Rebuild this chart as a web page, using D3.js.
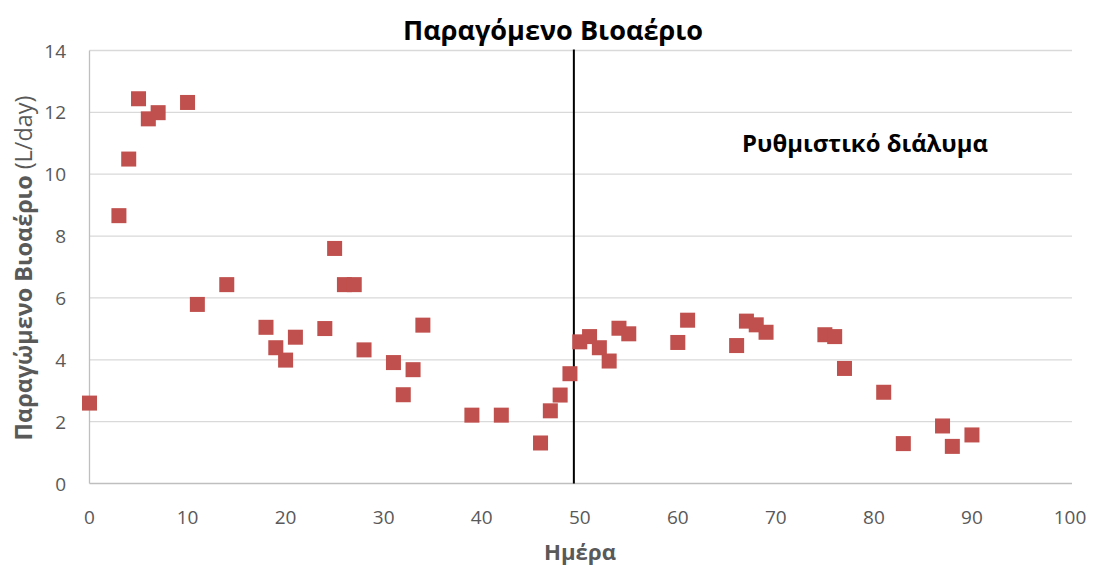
<!DOCTYPE html>
<html>
<head>
<meta charset="utf-8">
<script src="https://cdn.jsdelivr.net/npm/d3@7/dist/d3.min.js"></script>
<style>
  html, body { margin: 0; padding: 0; background: #fff; }
  svg { display: block; }
  text { font-family: "Open Sans", "Noto Sans", sans-serif; }
</style>
</head>
<body>
<svg id="chart" width="1093" height="567"></svg>
<script>
// Day of measurement
const days = [0, 3, 4, 5, 6, 7, 10, 11, 14, 18, 19, 20, 21, 24, 25, 26, 27, 28,
  31, 32, 33, 34, 39, 42, 46, 47, 48, 49, 50, 51, 52, 53, 54, 55, 60, 61,
  66, 67, 68, 69, 75, 76, 77, 81, 83, 87, 88, 90];
// Produced biogas (L/day)
const biogas = [2.6, 8.66, 10.49, 12.44, 11.79, 11.99, 12.32, 5.79, 6.43, 5.05, 4.39, 3.99, 4.73, 5.01, 7.6, 6.43, 6.43, 4.32,
  3.91, 2.87, 3.68, 5.12, 2.21, 2.21, 1.31, 2.35, 2.86, 3.55, 4.58, 4.75, 4.39, 3.96, 5.02, 4.84, 4.56, 5.28,
  4.46, 5.25, 5.13, 4.89, 4.81, 4.75, 3.72, 2.95, 1.29, 1.86, 1.2, 1.57];
const xTicks = [0, 10, 20, 30, 40, 50, 60, 70, 80, 90, 100];
const yTicks = [0, 2, 4, 6, 8, 10, 12, 14];
const bufferDay = 49.4;

const svg = d3.select("#chart");
const plot = { left: 89.5, right: 1072, top: 50.5, bottom: 483.5 };

const x = d3.scaleLinear().domain([0, 100]).range([plot.left, 1070]);
const y = d3.scaleLinear().domain([0, 14]).range([plot.bottom, plot.top]);

// scale a text element's font size so it spans the given width
function fitWidth(sel, width) {
  const node = sel.node();
  const fs = parseFloat(sel.attr("font-size"));
  const w = node.getComputedTextLength();
  if (w > 0) sel.attr("font-size", (fs * width / w).toFixed(2));
  return sel;
}

// horizontal gridlines
svg.append("g").selectAll("line").data(yTicks.filter(d => d > 0)).join("line")
  .attr("x1", plot.left).attr("x2", plot.right)
  .attr("y1", d => y(d)).attr("y2", d => y(d))
  .attr("stroke", "#d9d9d9").attr("stroke-width", 1.3);

// axis lines
svg.append("line").attr("x1", plot.left).attr("x2", plot.right)
  .attr("y1", y(0)).attr("y2", y(0)).attr("stroke", "#bfbfbf").attr("stroke-width", 1.3);
svg.append("line").attr("x1", plot.left).attr("x2", plot.left)
  .attr("y1", y(0)).attr("y2", y(14)).attr("stroke", "#bfbfbf").attr("stroke-width", 1.3);

// tick labels
svg.append("g").selectAll("text").data(yTicks).join("text")
  .attr("x", 66).attr("y", d => y(d) + 7)
  .attr("text-anchor", "end").attr("font-size", 19).attr("fill", "#595959")
  .text(d => d);
svg.append("g").selectAll("text").data(xTicks).join("text")
  .attr("x", d => x(d)).attr("y", 524)
  .attr("text-anchor", "middle").attr("font-size", 19).attr("fill", "#595959")
  .text(d => d);

// separator for buffer addition
svg.append("line").attr("x1", x(bufferDay)).attr("x2", x(bufferDay))
  .attr("y1", y(14) - 1).attr("y2", y(0))
  .attr("stroke", "#000").attr("stroke-width", 2);

// data markers
const s = 15;
svg.append("g").selectAll("rect").data(days.map((d, i) => [d, biogas[i]])).join("rect")
  .attr("x", d => x(d[0]) - s / 2).attr("y", d => y(d[1]) - s / 2)
  .attr("width", s).attr("height", s)
  .attr("fill", "#c0504d");

// titles
fitWidth(svg.append("text").attr("x", 553).attr("y", 40).attr("text-anchor", "middle")
  .attr("font-size", 22).attr("font-weight", "bold").attr("fill", "#000")
  .text("Παραγόμενο Βιοαέριο"), 300);
fitWidth(svg.append("text").attr("x", 865).attr("y", 152).attr("text-anchor", "middle")
  .attr("font-size", 20).attr("font-weight", "bold").attr("fill", "#000")
  .text("Ρυθμιστικό διάλυμα"), 246);
fitWidth(svg.append("text").attr("x", 580).attr("y", 560).attr("text-anchor", "middle")
  .attr("font-size", 18).attr("font-weight", "bold").attr("fill", "#595959")
  .text("Ημέρα"), 72);

const yl = svg.append("text").attr("transform", "translate(32,268) rotate(-90)")
  .attr("text-anchor", "middle").attr("font-size", 18).attr("fill", "#595959");
yl.append("tspan").attr("font-weight", "bold").text("Παραγώμενο Βιοαέριο");
yl.append("tspan").text(" (L/day)");
fitWidth(yl, 345);
</script>
</body>
</html>
